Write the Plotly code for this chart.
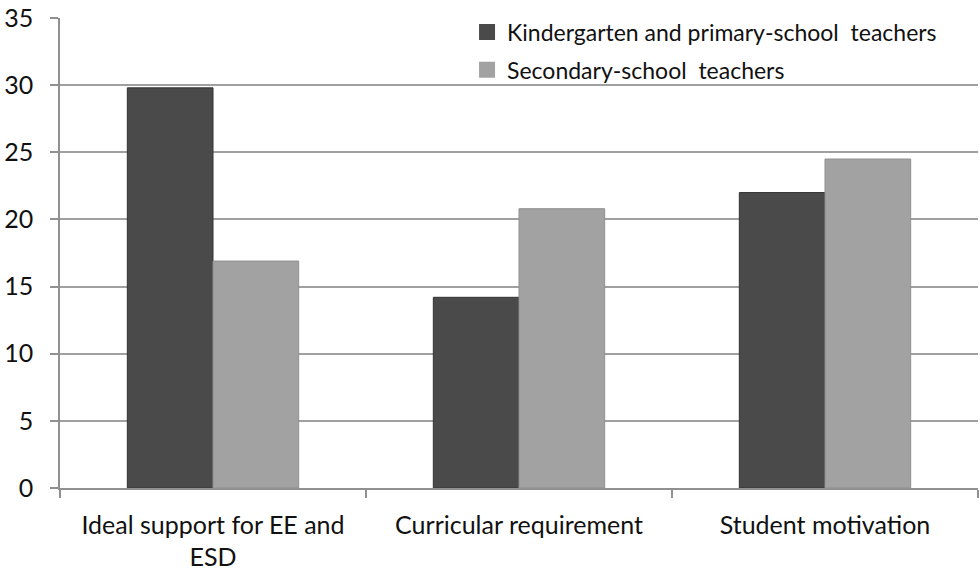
import plotly.graph_objects as go

# Survey results by factor and teacher group
categories = ["Ideal support for EE and<br>ESD", "Curricular requirement", "Student motivation"]
series_names = ["Kindergarten and primary-school  teachers", "Secondary-school  teachers"]
primary_values = [29.8, 14.2, 22.0]
secondary_values = [16.9, 20.8, 24.5]
y_ticks = [0, 5, 10, 15, 20, 25, 30, 35]

FONT = "Lato, Open Sans, sans-serif"
DARK = "#4a4a4a"
LIGHT = "#a2a2a2"

fig = go.Figure()
fig.add_trace(go.Bar(
    x=categories, y=primary_values, name=series_names[0], showlegend=False,
    marker=dict(color=DARK, line=dict(color="#333333", width=1)),
))
fig.add_trace(go.Bar(
    x=categories, y=secondary_values, name=series_names[1], showlegend=False,
    marker=dict(color=LIGHT, line=dict(color="#909090", width=1)),
))
# Legend entries with larger square swatches
for name, color, grp in [(series_names[0], DARK, "a"), (series_names[1], LIGHT, "b")]:
    fig.add_trace(go.Scatter(
        x=[None], y=[None], mode="markers", name=name, legendgroup=grp,
        marker=dict(symbol="square", size=16, color=color, line=dict(width=0)),
    ))

# White strip hiding the top gridline behind the legend area
fig.add_shape(
    type="rect", xref="paper", yref="paper",
    x0=0.435, x1=1.0, y0=0.985, y1=1.015,
    fillcolor="white", line=dict(width=0), layer="above",
)

fig.update_layout(
    width=980, height=573,
    margin=dict(l=60, r=2, t=18, b=85),
    paper_bgcolor="white", plot_bgcolor="white",
    barmode="group", bargap=0.44, bargroupgap=0,
    font=dict(family=FONT, color="#111111"),
    legend=dict(
        x=0.4434, y=1.016, xanchor="left", yanchor="top",
        bgcolor="rgba(0,0,0,0)", font=dict(size=23, family=FONT),
        tracegroupgap=5, itemwidth=30,
    ),
)
fig.update_yaxes(
    range=[0, 35], tickvals=y_ticks, automargin=False,
    showgrid=True, gridcolor="#a0a0a0", gridwidth=1.5,
    showline=True, linecolor="#909090", linewidth=1.5,
    ticks="outside", ticklen=8, tickcolor="#909090", tickwidth=1.5,
    tickfont=dict(size=25, family=FONT), ticklabelstandoff=12,
    zeroline=False,
)
fig.update_xaxes(
    automargin=False,
    showline=True, linecolor="#909090", linewidth=1.5,
    ticks="outside", tickson="boundaries", ticklen=8, tickcolor="#909090", tickwidth=1.5,
    tickfont=dict(size=25, family=FONT), ticklabelstandoff=14,
)

fig.write_html("out.html")
